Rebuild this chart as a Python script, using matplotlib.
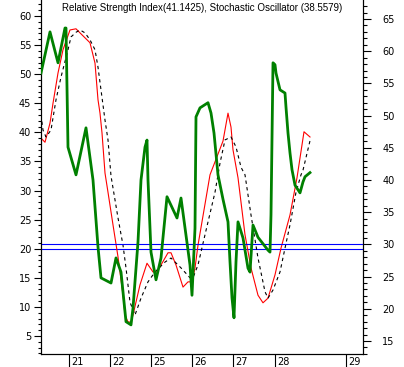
import matplotlib
matplotlib.use("Agg")
import matplotlib.pyplot as plt
from matplotlib.ticker import MultipleLocator
import matplotlib.transforms as mtransforms

# ---- data (x in bar units from left edge) ----
rsi_x = [0, 9, 17, 24, 25, 27, 35, 45, 52, 57, 60, 70, 75, 80, 85, 90, 92, 97, 100, 104, 106, 107,
         110, 115, 120, 126, 136, 140, 149, 151, 154, 155, 159, 167, 170, 173, 177, 182, 187, 189,
         191, 193, 195, 197, 202, 207, 209, 212, 217, 227, 229, 230, 232, 234, 235, 239, 244, 245,
         247, 249, 251, 254, 259, 262, 264, 269]
rsi = [56.6, 63.0, 58.2, 63.6, 63.6, 45.1, 40.8, 48.1, 40.0, 29.6, 24.8, 24.0, 27.9, 25.7, 18.0,
       17.5, 20.1, 30.4, 40.0, 45.1, 46.2, 40.0, 28.8, 24.5, 27.9, 37.4, 34.1, 37.2, 26.8, 22.1,
       32.5, 49.8, 51.2, 52.0, 50.4, 47.3, 40.8, 37.0, 33.5, 27.3, 21.7, 18.6, 27.3, 33.5, 31.0,
       26.3, 25.7, 33.0, 31.1, 29.1, 28.8, 34.6, 58.2, 57.9, 56.6, 54.0, 53.5, 51.3, 47.3, 44.2,
       41.6, 39.2, 38.0, 39.7, 40.5, 41.1425]

k_x = [0, 4, 9, 12, 17, 22, 29, 35, 39, 49, 50, 54, 57, 59, 61, 64, 67, 72, 77, 79, 82, 84, 87,
       90, 92, 99, 106, 112, 116, 127, 130, 135, 142, 147, 151, 154, 157, 169, 182, 187, 190, 192,
       197, 204, 210, 217, 222, 227, 234, 240, 249, 256, 263, 269]
stoch_k = [39.0, 38.3, 41.6, 45.0, 50.2, 54.2, 57.6, 57.8, 57.1, 55.4, 54.7, 51.9, 45.6, 43.3,
           39.9, 33.0, 29.7, 24.1, 18.6, 16.0, 12.0, 8.6, 7.4, 7.4, 8.6, 13.8, 17.5, 16.0, 16.0,
           19.3, 19.3, 17.2, 13.4, 14.3, 14.3, 16.7, 20.6, 32.7, 38.5, 43.3, 40.9, 37.0, 32.2,
           22.4, 16.7, 12.0, 10.7, 11.5, 15.5, 20.1, 25.8, 32.2, 40.1, 39.2]

d_x = [0, 2, 5, 10, 15, 20, 27, 30, 35, 39, 44, 49, 54, 57, 60, 64, 67, 70, 77, 82, 85, 89, 92,
       94, 100, 107, 114, 124, 130, 140, 149, 152, 157, 164, 174, 179, 184, 190, 195, 200, 204,
       210, 217, 224, 227, 232, 239, 244, 249, 255, 260, 262, 269]
stoch_d = [43.0, 40.4, 39.2, 40.4, 45.6, 49.5, 54.2, 56.4, 57.2, 57.6, 57.1, 55.9, 54.2, 51.2,
           47.3, 42.1, 38.7, 32.5, 25.3, 20.6, 16.7, 10.8, 9.5, 8.6, 11.5, 14.3, 16.0, 17.7, 18.4,
           16.7, 15.0, 15.0, 17.2, 22.4, 29.7, 34.7, 38.7, 39.2, 37.5, 34.0, 32.7, 25.8, 18.4,
           12.6, 11.5, 12.9, 16.0, 20.1, 24.1, 29.7, 32.7, 33.5, 38.5579]

day_ticks = [28, 69, 110, 151, 192, 234, 305]
day_labels = ["21", "22", "25", "26", "27", "28", "29"]

rsi_level = 30
stoch_level = 20

# ---- figure ----
W, H = 404, 367
fig = plt.figure(figsize=(W / 100, H / 100), dpi=100)
fig.patch.set_facecolor("white")
ax = fig.add_axes([41 / W, (H - 354) / H, (363 - 41) / W, 354 / H])
ax2 = ax.twinx()

ax.set_xlim(0, 322)
ax.set_ylim(1.9, 62.75)
ax2.set_ylim(12.98, 67.95)

ax.axhline(stoch_level, color="#0000ff", lw=0.8, zorder=1)
ax2.axhline(rsi_level, color="#0000ff", lw=0.8, zorder=1)

ax.plot(k_x, stoch_k, color="#ff0000", lw=0.8, zorder=3)
ax.plot(d_x, stoch_d, color="black", lw=0.8, linestyle=(0, (3, 3)), zorder=3)
ax2.plot(rsi_x, rsi, color="#008000", lw=2.0, zorder=4)

for a in (ax, ax2):
    a.spines["top"].set_visible(False)
    a.spines["left"].set_linewidth(0.8)
    a.spines["right"].set_linewidth(0.8)
    a.spines["bottom"].set_linewidth(0.8)

ax.yaxis.set_major_locator(MultipleLocator(5))
ax.yaxis.set_minor_locator(MultipleLocator(1))
ax.tick_params(axis="y", which="major", length=5, width=0.8, labelsize=7, pad=2, direction="out")
ax.tick_params(axis="y", which="minor", length=2.5, width=0.8, direction="out")
ax.set_yticks(range(5, 61, 5))

ax2.yaxis.set_major_locator(MultipleLocator(5))
ax2.yaxis.set_minor_locator(MultipleLocator(1))
ax2.tick_params(axis="y", which="major", length=6, width=0.8, labelsize=7, pad=8, direction="out")
ax2.tick_params(axis="y", which="minor", length=3, width=0.8, direction="out")
ax2.set_yticks(range(15, 66, 5))

ax.set_xticks(day_ticks)
ax.set_xticklabels([])
ax.tick_params(axis="x", length=9, width=0.8, direction="out")
trans = mtransforms.blended_transform_factory(ax.transData, ax.transAxes)
for xt, lab in zip(day_ticks, day_labels):
    ax.text(xt, 0, lab, transform=trans + mtransforms.ScaledTranslation(1.5 / 72, -5.5 / 72, fig.dpi_scale_trans),
            ha="left", va="center", fontsize=7)

ax.text(0.5, 0.977, "Relative Strength Index(41.1425), Stochastic Oscillator (38.5579)",
        transform=ax.transAxes, ha="center", va="center", fontsize=7, family="Liberation Sans")

fig.savefig("out.png", dpi=100)
